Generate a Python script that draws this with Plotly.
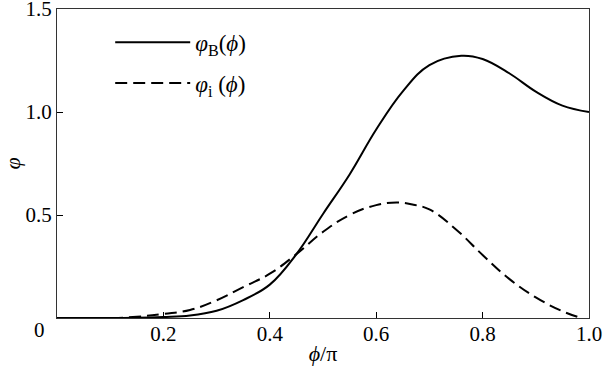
import plotly.graph_objects as go

# phi / pi
phi = [0.0, 0.1, 0.15, 0.2, 0.25, 0.3, 0.35, 0.4, 0.45, 0.5, 0.55, 0.6,
       0.65, 0.7, 0.76, 0.8, 0.85, 0.9, 0.95, 1.0]
phi_B = [0.0, 0.0, 0.001, 0.005, 0.012, 0.035, 0.087, 0.162, 0.31, 0.505, 0.697,
         0.915, 1.10, 1.228, 1.273, 1.257, 1.188, 1.099, 1.031, 1.0]

phi_i_x = [0.0, 0.1, 0.15, 0.2, 0.25, 0.3, 0.35, 0.4, 0.45, 0.5, 0.55, 0.6, 0.64,
           0.67, 0.7, 0.75, 0.8, 0.85, 0.9, 0.95, 0.985]
phi_i = [0.0, 0.0, 0.006, 0.02, 0.039, 0.086, 0.15, 0.215, 0.31, 0.418, 0.50,
         0.548, 0.561, 0.55, 0.527, 0.43, 0.306, 0.19, 0.1, 0.033, 0.0]

x_ticks = [0.2, 0.4, 0.6, 0.8, 1.0]
x_ticklabels = ["0.2", "0.4", "0.6", "0.8", "1.0"]
y_ticks = [0.5, 1.0, 1.5]
y_ticklabels = ["0.5", "1.0", "1.5"]

FONT = "Liberation Serif, Times New Roman, serif"

fig = go.Figure()
fig.add_trace(go.Scatter(
    x=phi, y=phi_B, mode="lines",
    line=dict(color="black", width=2, shape="spline", smoothing=1.1),
    name="<i>φ</i><sub>B</sub>(<i>ϕ</i>)", legendgroup="a"))
fig.add_trace(go.Scatter(
    x=phi_i_x, y=phi_i, mode="lines",
    line=dict(color="black", width=2, dash="12px,6px", shape="spline", smoothing=1.2),
    name="<i>φ</i><sub>i</sub>\u00a0(<i>ϕ</i>)", legendgroup="b"))

axis_common = dict(showgrid=False, zeroline=False, showline=True, linecolor="#333",
                   linewidth=1, mirror=True, ticks="inside", ticklen=6, tickcolor="black",
                   automargin=False, ticklabeloverflow="allow",
                   tickfont=dict(family=FONT, size=21, color="black"))

fig.update_layout(
    width=605, height=377,
    margin=dict(l=57, r=16, t=9, b=59, autoexpand=False),
    plot_bgcolor="white", paper_bgcolor="white",
    font=dict(family=FONT, color="black", size=21),
    xaxis=dict(range=[0, 1.0], tickvals=x_ticks, ticktext=x_ticklabels,
               ticklabelstandoff=-3,
               title=dict(text="<i>ϕ</i>/π", font=dict(family=FONT, size=22, color="black"), standoff=0),
               **axis_common),
    yaxis=dict(range=[0, 1.5], tickvals=y_ticks, ticktext=y_ticklabels,
               title=dict(text="<i>φ</i>", font=dict(family=FONT, size=22, color="black"), standoff=10),
               **axis_common),
    legend=dict(x=0.1, y=0.962, xanchor="left", yanchor="top", itemwidth=75,
                font=dict(family=FONT, size=23, color="black"), bgcolor="rgba(0,0,0,0)",
                traceorder="grouped", tracegroupgap=8),
    showlegend=True,
)
fig.add_annotation(text="0", xref="paper", yref="paper", x=-0.032, y=0,
                   xanchor="center", yanchor="middle",
                   yshift=-12, showarrow=False,
                   font=dict(family=FONT, size=21, color="black"))

fig.write_html("out.html", config={"displayModeBar": False},
               post_script="document.body.style.margin='0';")
